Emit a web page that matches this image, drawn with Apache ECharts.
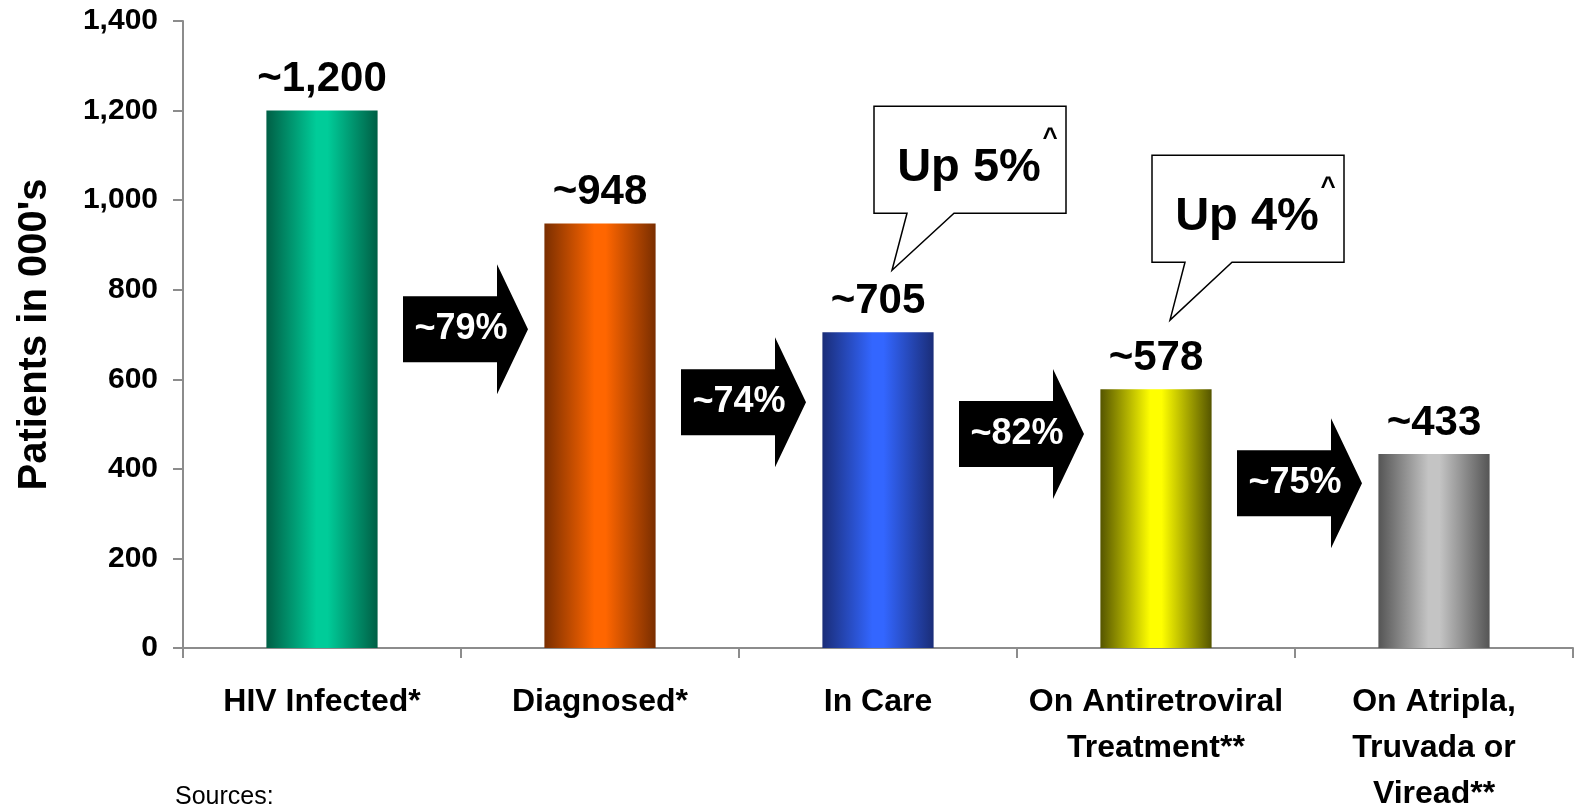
<!DOCTYPE html>
<html>
<head>
<meta charset="utf-8">
<title>HIV Patient Funnel</title>
<script src="https://cdn.jsdelivr.net/npm/echarts@6/dist/echarts.min.js"></script>
<style>
  html, body { margin: 0; padding: 0; background: #ffffff; }
  #chart { width: 1575px; height: 805px; }
</style>
</head>
<body>
<div id="chart"></div>
<script>
// ---- data ----
const categories = [
  'HIV Infected*',
  'Diagnosed*',
  'In Care',
  'On Antiretroviral\nTreatment**',
  'On Atripla,\nTruvada or\nViread**'
];
const patients = [1200, 948, 705, 578, 433];           // thousands
const stepRates = ['~79%', '~74%', '~82%', '~75%'];     // conversion between consecutive stages
const growthNotes = [                                   // call-out bubbles
  { stage: 2, text: 'Up 5%' },
  { stage: 3, text: 'Up 4%' }
];
const yTicks = { min: 0, max: 1400, interval: 200 };

// ---- layout / style ----
const FONT = '"Liberation Sans", Arial, Helvetica, sans-serif';
const arrowLevels = [712, 549, 478, 368];               // vertical centre of each step arrow, axis units
const calloutOffsets = [                                // px above the bar top: [tip, box bottom]
  [62, 119],
  [69, 127]
];
const barShades = [
  ['#005f45', '#00cc99'],
  ['#7a2e00', '#ff6600'],
  ['#1a2d78', '#3366ff'],
  ['#555500', '#ffff00'],
  ['#555555', '#c4c4c4']
];

function shade(pair) {
  return {
    type: 'linear', x: 0, y: 0, x2: 1, y2: 0,
    colorStops: [
      { offset: 0, color: pair[0] },
      { offset: 0.45, color: pair[1] },
      { offset: 0.55, color: pair[1] },
      { offset: 1, color: pair[0] }
    ]
  };
}

const barData = patients.map((v, i) => ({
  value: v,
  itemStyle: { color: shade(barShades[i]) }
}));

const arrowData = stepRates.map((t, i) => [i, arrowLevels[i], t]);
const calloutData = growthNotes.map((n, k) => [n.stage, patients[n.stage], n.text, k]);

const chart = echarts.init(document.getElementById('chart'), null, { renderer: 'canvas' });

chart.setOption({
  animation: false,
  backgroundColor: '#ffffff',
  textStyle: { fontFamily: FONT },
  grid: { left: 183, right: 2, top: 21, bottom: 157, containLabel: false, outerBoundsMode: 'none' },
  xAxis: {
    type: 'category',
    data: categories,
    boundaryGap: true,
    axisLine: { show: true, lineStyle: { color: '#8c8c8c', width: 2 } },
    axisTick: { show: true, length: 10, lineStyle: { color: '#8c8c8c', width: 2 } },
    axisLabel: {
      margin: 31,
      interval: 0,
      color: '#000',
      fontFamily: FONT,
      fontWeight: 'bold',
      fontSize: 32,
      lineHeight: 46
    }
  },
  yAxis: {
    type: 'value',
    min: yTicks.min,
    max: yTicks.max,
    interval: yTicks.interval,
    name: "Patients in 000's",
    nameLocation: 'middle',
    nameRotate: 90,
    nameGap: 128,
    nameTextStyle: { color: '#000', fontFamily: FONT, fontWeight: 'bold', fontSize: 40 },
    splitLine: { show: false },
    axisLine: { show: true, lineStyle: { color: '#8c8c8c', width: 2 } },
    axisTick: { show: true, length: 10, lineStyle: { color: '#8c8c8c', width: 2 } },
    axisLabel: {
      margin: 25,
      color: '#000',
      fontFamily: FONT,
      fontWeight: 'bold',
      fontSize: 30,
      formatter: v => v.toLocaleString('en-US')
    }
  },
  series: [
    {
      type: 'bar',
      data: barData,
      barWidth: '40%',
      label: {
        show: true,
        position: 'top',
        distance: 10,
        color: '#000',
        fontFamily: FONT,
        fontWeight: 'bold',
        fontSize: 42,
        formatter: p => '~' + p.value.toLocaleString('en-US')
      },
      z: 2
    },
    {
      // black block arrows between consecutive stages
      type: 'custom',
      data: arrowData,
      encode: { x: 0, y: 1 },
      z: 5,
      renderItem: function (params, api) {
        const pt = api.coord([api.value(0), api.value(1)]);
        const band = api.size([1, 0])[0];
        const bx = pt[0] + band / 2;
        const cy = pt[1];
        return {
          type: 'group',
          children: [
            {
              type: 'polygon',
              shape: {
                points: [
                  [bx - 58, cy - 33], [bx + 36, cy - 33], [bx + 36, cy - 65],
                  [bx + 67, cy], [bx + 36, cy + 65], [bx + 36, cy + 33],
                  [bx - 58, cy + 33]
                ]
              },
              style: { fill: '#000' }
            },
            {
              type: 'text',
              x: bx,
              y: cy,
              style: {
                text: arrowData[params.dataIndex][2],
                fill: '#fff',
                font: 'bold 36px ' + FONT,
                align: 'center',
                verticalAlign: 'middle'
              }
            }
          ]
        };
      }
    },
    {
      // speech-bubble call-outs above selected bars
      type: 'custom',
      data: calloutData,
      encode: { x: 0, y: 1 },
      z: 6,
      renderItem: function (params, api) {
        const top = api.coord([api.value(0), api.value(1)]);
        const cx = top[0];
        const k = calloutData[params.dataIndex][3];
        const tipY = top[1] - calloutOffsets[k][0];
        const B = top[1] - calloutOffsets[k][1];
        const T = B - 107;
        const L = cx - 4;
        const R = L + 192;
        return {
          type: 'group',
          children: [
            {
              type: 'polygon',
              shape: {
                points: [
                  [L, T], [R, T], [R, B], [cx + 76, B],
                  [cx + 14, tipY], [cx + 29, B], [L, B]
                ]
              },
              style: { fill: '#fff', stroke: '#000', lineWidth: 1.5 }
            },
            {
              type: 'text',
              x: L + 95,
              y: T + 62,
              style: {
                text: calloutData[params.dataIndex][2],
                fill: '#000',
                font: 'bold 47px ' + FONT,
                align: 'center',
                verticalAlign: 'middle'
              }
            },
            {
              type: 'text',
              x: L + 176,
              y: T + 20,
              style: {
                text: '^',
                fill: '#000',
                font: 'bold 26px ' + FONT,
                align: 'center',
                verticalAlign: 'top'
              }
            }
          ]
        };
      }
    }
  ],
  graphic: [
    {
      type: 'text',
      left: 175,
      top: 785,
      style: { text: 'Sources:', fill: '#000', font: '25px ' + FONT }
    }
  ]
});
</script>
</body>
</html>
